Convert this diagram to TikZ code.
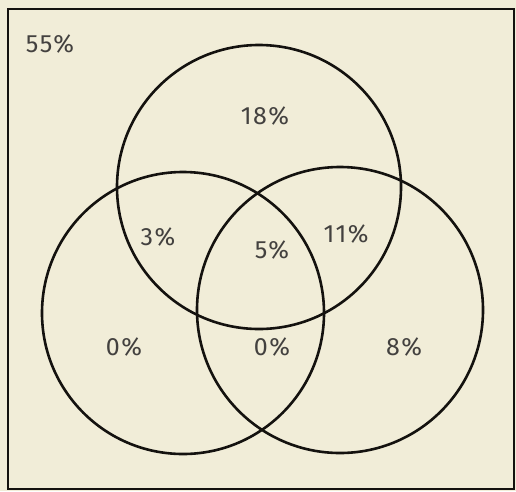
\documentclass[tikz,border=0pt]{standalone}
\usepackage{fontspec}
\setmainfont{Fira Sans}
\usepackage{tikz}

\definecolor{paper}{RGB}{241,237,216}
\definecolor{ink}{RGB}{20,18,15}

\begin{document}
\begin{tikzpicture}[x=1pt, y=-1pt, line width=2.6pt,
    pct/.style={font=\fontsize{25}{27}\selectfont\addfontfeatures{LetterSpace=6}, text=ink!80}]
            % Nền giấy và khung
            \fill[paper] (0,0) rectangle (516,491);
            \useasboundingbox (0,0) rectangle (516,491);
            \draw[ink, line width=2.4pt] (8,9) rectangle (514,489);
            
            % Ba đường tròn
            \coordinate (ctop) at (259,187);
            \coordinate (cleft) at (183,313);
            \coordinate (cright) at (340,310);
            \draw[ink] (ctop) circle (142);
            \draw[ink] (cleft) circle (141);
            \draw[ink] (cright) circle (143);
            
            % Các tỉ lệ phần trăm
            \node[pct] (outside) at (50,44) {55\%};
            \node[pct] (onlytop) at (265,116) {18\%};
            \node[pct] (topleft) at (158,237) {3\%};
            \node[pct] (all) at (272,250) {5\%};
            \node[pct] (topright) at (346,234) {11\%};
            \node[pct] (onlyleft) at (124,347) {0\%};
            \node[pct] (leftright) at (272,347) {0\%};
            \node[pct] (onlyright) at (404,347) {8\%};
        \end{tikzpicture}
\end{document}
